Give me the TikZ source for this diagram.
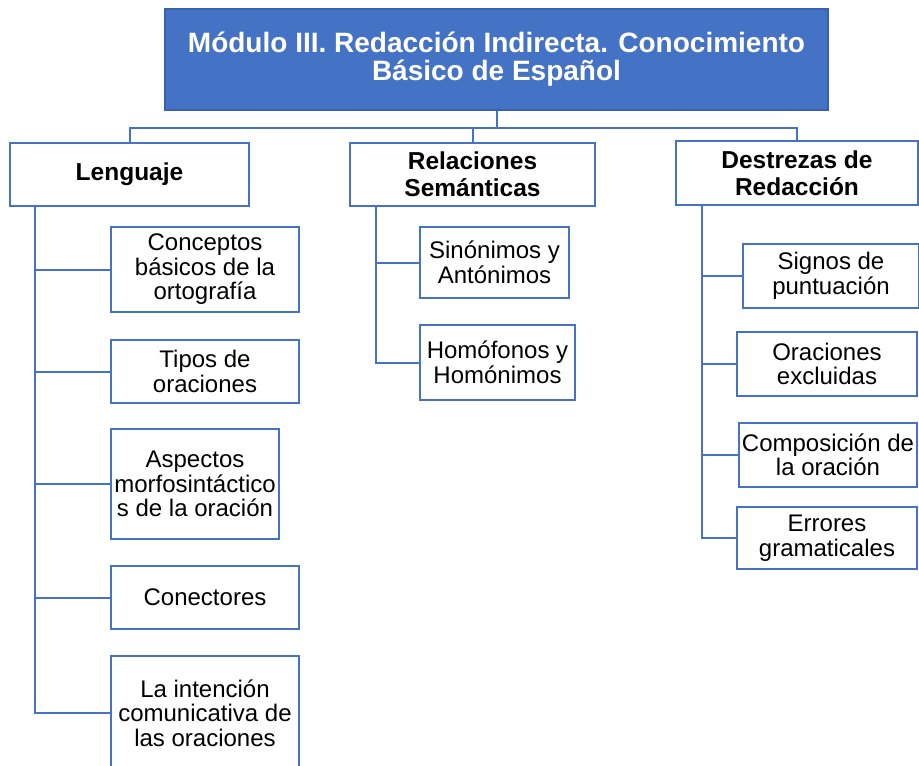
\documentclass[tikz,border=0pt]{standalone}
\usepackage{fontspec}
\setmainfont{Liberation Sans}
\definecolor{lineblue}{HTML}{4472C4}
\definecolor{titleblue}{HTML}{4472C4}
\definecolor{titleedge}{HTML}{3761AE}
\begin{document}
\begin{tikzpicture}[x=1pt,y=-1pt,
  leaf/.style={draw=lineblue, line width=2pt, fill=white, inner sep=0pt, align=center, font=\fontsize{24}{24.5}\selectfont},
  head/.style={leaf, font=\bfseries\fontsize{24.5}{27}\selectfont},
  titlebox/.style={draw=titleedge, line width=1.2pt, fill=titleblue, text=white, inner sep=0pt, align=center, font=\bfseries\fontsize{28}{28}\selectfont},
  link/.style={draw=lineblue, line width=2pt}]
\useasboundingbox (0,0) rectangle (919,766);
\fill[white] (0,0) rectangle (919,766);

% title
\node[titlebox, minimum width=663pt, minimum height=101pt] (T) at (496.5,59.5)
  {Módulo III. Redacción Indirecta. Conocimiento\\Básico de Español};

% level 1
\node[head, minimum width=239pt, minimum height=63pt] (L1) at (129.5,174.5) {Lenguaje};
\node[head, minimum width=245pt, minimum height=63pt] (L2) at (472.5,174.5) {Relaciones\\Semánticas};
\node[head, minimum width=242pt, minimum height=64pt] (L3) at (797,173) {Destrezas de\\Redacción};

% Lenguaje children
\node[leaf, minimum width=188pt, minimum height=85pt] (a1) at (205,269.5) {Conceptos\\básicos de la\\ortografía};
\node[leaf, minimum width=188pt, minimum height=63pt] (a2) at (205,371.5) {Tipos de\\oraciones};
\node[leaf, minimum width=168pt, minimum height=110pt] (a3) at (195,484) {Aspectos\\morfosintáctico\\s de la oración};
\node[leaf, minimum width=188pt, minimum height=63pt] (a4) at (205,597.5) {Conectores};
\node[leaf, minimum width=188pt, minimum height=114pt] (a5) at (205,713) {La intención\\comunicativa de\\las oraciones};

% Relaciones children
\node[leaf, minimum width=149pt, minimum height=71pt] (b1) at (494.5,262.5) {Sinónimos y\\Antónimos};
\node[leaf, minimum width=155pt, minimum height=75pt] (b2) at (497.5,362.5) {Homófonos y\\Homónimos};

% Destrezas children
\node[leaf, minimum width=176pt, minimum height=64pt] (c1) at (831,276) {Signos de\\puntuación};
\node[leaf, minimum width=180pt, minimum height=64pt] (c2) at (827,364) {Oraciones\\excluidas};
\node[leaf, minimum width=178pt, minimum height=64pt] (c3) at (828,455) {Composición de\\la oración};
\node[leaf, minimum width=180pt, minimum height=62pt] (c4) at (827,538) {Errores\\gramaticales};

% top connectors
\coordinate (bus) at (0,128);
\draw[link] (T.south) -- (T.south |- bus);
\draw[link] (L1.north) -- (L1.north |- bus) -- (L3.north |- bus) -- (L3.north);
\draw[link] (L2.north) -- (L2.north |- bus);

% Lenguaje branch
\coordinate (lv) at (35,206);
\draw[link] (lv) |- (a5.west);
\foreach \n in {a1,a2,a3,a4} \draw[link] (lv |- \n.west) -- (\n.west);

% Relaciones branch
\coordinate (rv) at (376,206);
\draw[link] (rv) |- (b2.west);
\draw[link] (rv |- b1.west) -- (b1.west);

% Destrezas branch
\coordinate (dv) at (702,205);
\draw[link] (dv) |- (c4.west);
\foreach \n in {c1,c2,c3} \draw[link] (dv |- \n.west) -- (\n.west);
\end{tikzpicture}
\end{document}
